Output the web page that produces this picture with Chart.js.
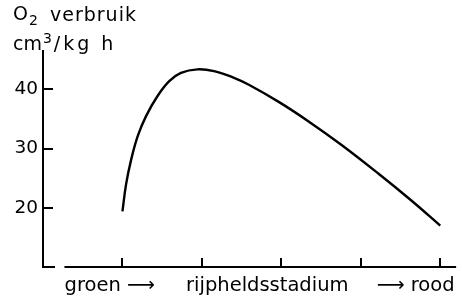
<!DOCTYPE html>
<html>
<head>
<meta charset="utf-8">
<script src="https://cdn.jsdelivr.net/npm/chart.js@4"></script>
<style>
  html, body { margin: 0; padding: 0; background: #fff; }
  #wrap { width: 462px; height: 301px; }
</style>
</head>
<body>
<div id="wrap"><canvas id="c" width="462" height="301"></canvas></div>
<script>
// ---- data ----
const stagePositions = [0, 0.046, 0.109, 0.192, 0.297, 0.442, 0.589, 0.736, 0.944, 1.153, 1.382, 1.591, 1.967, 2.343, 2.75, 3.22, 3.64, 4.0];
const o2Values       = [19.4, 24.0, 28.1, 32.1, 35.5, 38.9, 41.4, 42.8, 43.4, 43.1, 42.1, 40.8, 37.9, 34.6, 30.7, 25.8, 21.2, 17.0];
const xTickStages    = [0, 1, 2, 3, 4];
const xLabels        = ['groen \u27F6', 'rijpheldsstadium', '\u27F6 rood'];
const xLabelStages   = [-0.16, 1.823, 3.69];
const yTickValues    = [20, 30, 40];
const yRange         = [10, 46.5];
const xRange         = [-1, 4.2];
const xAxisLineStart = -0.73;

const ink = '#000';

const decor = {
  id: 'decor',
  afterDraw(chart) {
    const ctx = chart.ctx, ca = chart.chartArea;
    const xs = chart.scales.x, ys = chart.scales.y;
    ctx.save();
    ctx.strokeStyle = ink;
    ctx.lineWidth = 2;
    ctx.lineCap = 'butt';
    const bottom = ys.getPixelForValue(yRange[0]);
    // x axis line (starts after a gap)
    ctx.beginPath();
    ctx.moveTo(xs.getPixelForValue(xAxisLineStart), bottom);
    ctx.lineTo(ca.right, bottom);
    // short foot of the y axis
    ctx.moveTo(ca.left - 1, bottom);
    ctx.lineTo(ca.left + 12, bottom);
    // x tick marks (inward)
    xTickStages.forEach(s => {
      const px = Math.round(xs.getPixelForValue(s));
      ctx.moveTo(px, bottom);
      ctx.lineTo(px, bottom - 9);
    });
    // y tick marks (inward)
    yTickValues.forEach(v => {
      const py = Math.round(ys.getPixelForValue(v));
      ctx.moveTo(ca.left, py);
      ctx.lineTo(ca.left + 10, py);
    });
    ctx.stroke();

    // axis title (two lines, with sub/superscript)
    ctx.fillStyle = ink;
    ctx.textBaseline = 'alphabetic';
    ctx.textAlign = 'left';
    const big = '19px "DejaVu Sans"', small = '14px "DejaVu Sans"';
    const setLS = v => { try { ctx.letterSpacing = v; } catch (e) {} };
    let x = 13;
    setLS('1px');
    ctx.font = big; ctx.fillText('O', x, 20); x += ctx.measureText('O').width;
    ctx.font = small; ctx.fillText('2', x, 25);
    ctx.font = big; ctx.fillText('verbruik', 50, 21);
    x = 13;
    setLS('0px');
    ctx.font = big; ctx.fillText('cm', x, 50); x += ctx.measureText('cm').width;
    ctx.font = small; ctx.fillText('3', x + 1, 43); x += ctx.measureText('3').width + 3;
    setLS('3px');
    ctx.font = big; ctx.fillText('/kg h', x, 50);
    ctx.restore();
  }
};

new Chart(document.getElementById('c'), {
  type: 'scatter',
  data: {
    datasets: [{
      data: stagePositions.map((s, i) => ({ x: s, y: o2Values[i] })),
      showLine: true,
      borderColor: ink,
      borderWidth: 2.4,
      pointRadius: 0,
      tension: 0.4,
      fill: false
    }]
  },
  options: {
    responsive: false,
    animation: false,
    devicePixelRatio: 1,
    layout: { padding: { left: 0, top: 51, right: 4, bottom: 0 } },
    plugins: { legend: { display: false }, title: { display: false }, tooltip: { enabled: false } },
    scales: {
      x: {
        type: 'linear',
        min: xRange[0], max: xRange[1],
        grid: { display: false, drawTicks: false },
        border: { display: false },
        ticks: {
          autoSkip: false, maxRotation: 0, minRotation: 0,
          padding: 7,
          color: ink,
          font: { family: '"DejaVu Sans"', size: 19.5 },
          callback: (v, i) => xLabels[i]
        },
        afterBuildTicks: s => { s.ticks = xLabelStages.map(v => ({ value: v })); },
        afterFit: s => { s.height = 34; }
      },
      y: {
        type: 'linear',
        min: yRange[0], max: yRange[1],
        grid: { display: false, drawTicks: false },
        border: { display: true, color: ink, width: 2 },
        ticks: {
          padding: 5,
          color: ink,
          font: { family: '"DejaVu Sans"', size: 18.5 }
        },
        afterBuildTicks: s => { s.ticks = yTickValues.map(v => ({ value: v })); },
        afterFit: s => { s.width = 43; }
      }
    }
  },
  plugins: [decor]
});
</script>
</body>
</html>
